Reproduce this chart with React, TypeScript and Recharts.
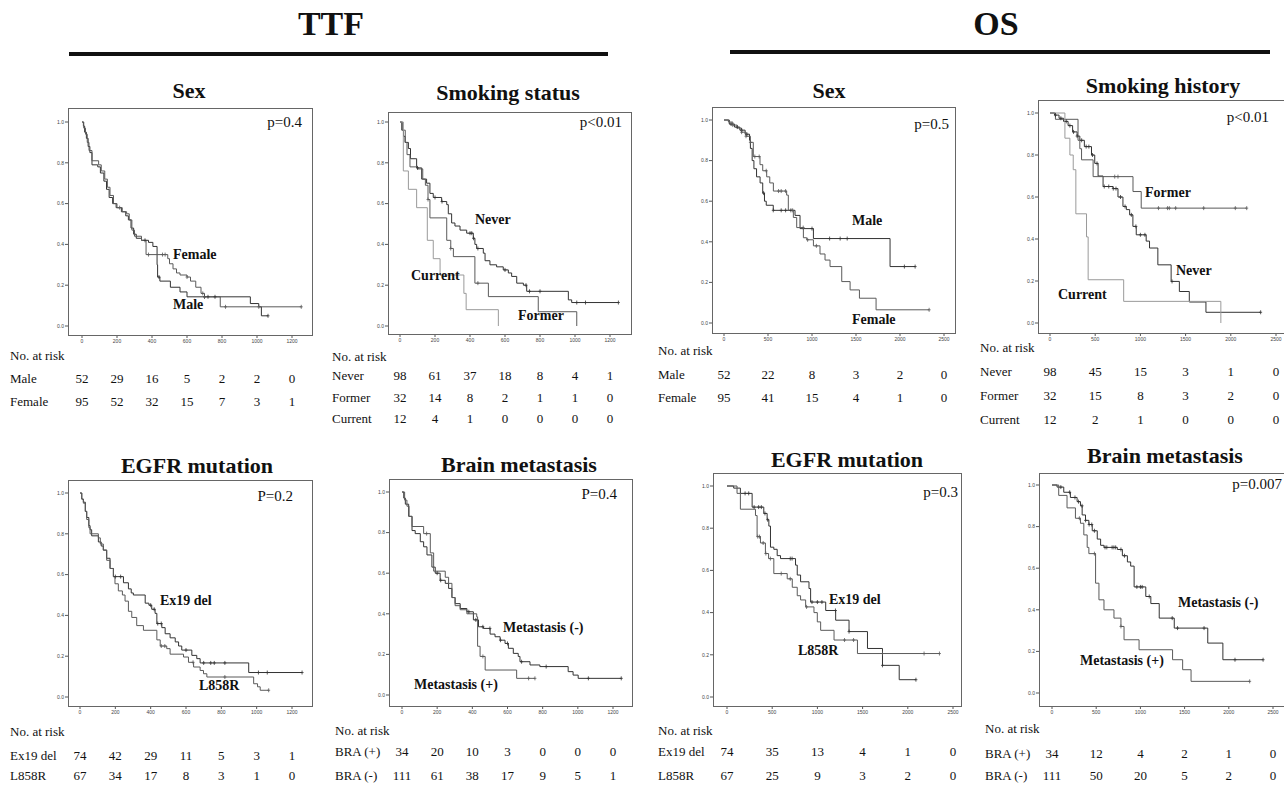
import React from 'react';
import { ComposedChart, Line, XAxis, YAxis } from 'recharts';

type Pt = [number, number];

const FONT = '"Liberation Serif", "DejaVu Serif", "Times New Roman", serif';

// axis ticks
const ttfTicks = [0, 200, 400, 600, 800, 1000, 1200];
const osTicks = [0, 500, 1000, 1500, 2000, 2500];
const survTicks = [0, 0.2, 0.4, 0.6, 0.8, 1.0];

// ---------- TTF: Sex ----------
const ttfSexMale: Pt[] = [[0, 1], [8, 0.98], [15, 0.95], [25, 0.92], [35, 0.88], [45, 0.85], [57, 0.79], [90, 0.78], [105, 0.75], [125, 0.71], [140, 0.67], [155, 0.63], [175, 0.6], [195, 0.58], [225, 0.56], [250, 0.54], [265, 0.52], [280, 0.48], [295, 0.45], [310, 0.43], [340, 0.42], [380, 0.41], [405, 0.39], [429, 0.3], [432, 0.24], [445, 0.22], [505, 0.19], [560, 0.167], [600, 0.143], [962, 0.11], [1010, 0.094], [1025, 0.05], [1063, 0.05]];
const ttfSexFemale: Pt[] = [[0, 1], [10, 0.97], [20, 0.94], [30, 0.9], [40, 0.86], [57, 0.81], [95, 0.79], [110, 0.76], [130, 0.72], [145, 0.68], [160, 0.64], [180, 0.6], [200, 0.58], [230, 0.56], [255, 0.55], [270, 0.52], [285, 0.47], [300, 0.44], [340, 0.42], [366, 0.35], [476, 0.35], [490, 0.33], [500, 0.305], [520, 0.28], [540, 0.26], [560, 0.25], [600, 0.24], [620, 0.22], [650, 0.19], [680, 0.16], [700, 0.143], [790, 0.094], [1253, 0.094]];
const ttfSexMaleCens = [360, 440, 700, 720, 760, 1063];
const ttfSexFemaleCens = [215, 380, 460, 475, 600, 690, 700, 820, 1010, 1253];
const ttfSexMaleRisk = [52, 29, 16, 5, 2, 2, 0];
const ttfSexFemaleRisk = [95, 52, 32, 15, 7, 3, 1];

// ---------- TTF: Smoking status ----------
const ttfSmkNever: Pt[] = [[0, 1], [10, 0.96], [20, 0.93], [29, 0.9], [48, 0.87], [60, 0.82], [86, 0.82], [95, 0.775], [124, 0.72], [152, 0.7], [171, 0.65], [190, 0.63], [238, 0.61], [267, 0.595], [276, 0.55], [295, 0.505], [314, 0.49], [343, 0.47], [381, 0.455], [419, 0.43], [428, 0.4], [438, 0.38], [476, 0.357], [486, 0.32], [514, 0.3], [552, 0.29], [590, 0.275], [619, 0.26], [638, 0.243], [667, 0.21], [705, 0.2], [724, 0.17], [962, 0.128], [981, 0.115], [1248, 0.115]];
const ttfSmkFormer: Pt[] = [[0, 1], [15, 0.96], [30, 0.9], [40, 0.84], [57, 0.78], [100, 0.77], [130, 0.72], [145, 0.69], [160, 0.62], [171, 0.53], [267, 0.42], [290, 0.38], [305, 0.34], [428, 0.21], [505, 0.144], [790, 0.07], [1010, 0]];
const ttfSmkCurrent: Pt[] = [[0, 1], [19, 0.76], [48, 0.67], [95, 0.58], [156, 0.42], [190, 0.33], [229, 0.25], [365, 0.16], [378, 0.08], [562, 0]];
const ttfSmkNeverCens = [100, 200, 240, 400, 410, 420, 445, 600, 720, 740, 800, 1010, 1060, 1248];
const ttfSmkFormerCens = [160, 290, 445];
const ttfSmkNeverRisk = [98, 61, 37, 18, 8, 4, 1];
const ttfSmkFormerRisk = [32, 14, 8, 2, 1, 1, 0];
const ttfSmkCurrentRisk = [12, 4, 1, 0, 0, 0, 0];

// ---------- OS: Sex ----------
const osSexMale: Pt[] = [[0, 1], [60, 0.98], [120, 0.965], [180, 0.95], [240, 0.93], [290, 0.9], [300, 0.86], [320, 0.8], [340, 0.76], [370, 0.72], [410, 0.69], [440, 0.64], [460, 0.6], [480, 0.58], [560, 0.555], [807, 0.53], [864, 0.465], [1016, 0.416], [1887, 0.278], [2172, 0.278]];
const osSexFemale: Pt[] = [[0, 1], [50, 0.99], [100, 0.975], [150, 0.96], [200, 0.94], [250, 0.92], [300, 0.89], [333, 0.82], [409, 0.78], [440, 0.75], [485, 0.72], [520, 0.69], [561, 0.65], [712, 0.63], [731, 0.555], [788, 0.52], [826, 0.47], [902, 0.42], [940, 0.41], [1016, 0.38], [1091, 0.34], [1148, 0.31], [1205, 0.278], [1338, 0.204], [1433, 0.163], [1539, 0.122], [1728, 0.065], [2331, 0.065]];
const osSexMaleCens = [80, 150, 200, 260, 450, 560, 650, 700, 760, 1000, 1200, 1320, 1400, 2050, 2172];
const osSexFemaleCens = [100, 200, 250, 300, 350, 400, 480, 620, 650, 700, 780, 900, 950, 1050, 2331];
const osSexMaleRisk = [52, 22, 8, 3, 2, 0];
const osSexFemaleRisk = [95, 41, 15, 4, 1, 0];

// ---------- OS: Smoking history ----------
const osSmkNever: Pt[] = [[0, 1], [50, 0.99], [100, 0.975], [150, 0.96], [200, 0.94], [250, 0.91], [300, 0.89], [330, 0.87], [380, 0.84], [459, 0.8], [495, 0.76], [532, 0.7], [587, 0.65], [697, 0.64], [752, 0.6], [807, 0.555], [844, 0.54], [881, 0.515], [917, 0.46], [954, 0.42], [1064, 0.39], [1101, 0.357], [1193, 0.277], [1340, 0.198], [1431, 0.15], [1541, 0.1], [1725, 0.051], [2330, 0.051]];
const osSmkFormer: Pt[] = [[0, 1], [60, 0.97], [310, 0.87], [330, 0.83], [349, 0.777], [477, 0.697], [918, 0.626], [1009, 0.547], [2176, 0.547]];
const osSmkCurrent: Pt[] = [[0, 1], [165, 0.88], [220, 0.8], [257, 0.73], [286, 0.52], [404, 0.41], [422, 0.206], [815, 0.103], [1890, 0]];
const osSmkNeverCens = [60, 120, 180, 220, 260, 300, 350, 400, 430, 470, 520, 600, 650, 700, 730, 780, 830, 900, 950, 1000, 1050, 1350, 2330];
const osSmkFormerCens = [716, 752, 1200, 1300, 1320, 1390, 1700, 2050, 2176];
const osSmkNeverRisk = [98, 45, 15, 3, 1, 0];
const osSmkFormerRisk = [32, 15, 8, 3, 2, 0];
const osSmkCurrentRisk = [12, 2, 1, 0, 0, 0];

// ---------- TTF: EGFR mutation ----------
const ttfEgfrEx19: Pt[] = [[0, 1], [10, 0.97], [19, 0.955], [30, 0.91], [38, 0.88], [50, 0.84], [57, 0.82], [66, 0.79], [104, 0.76], [120, 0.74], [132, 0.72], [151, 0.68], [170, 0.63], [189, 0.59], [246, 0.56], [274, 0.53], [290, 0.51], [302, 0.5], [369, 0.46], [390, 0.45], [406, 0.43], [425, 0.41], [435, 0.36], [463, 0.34], [482, 0.31], [510, 0.29], [539, 0.27], [558, 0.25], [576, 0.23], [633, 0.204], [661, 0.188], [680, 0.167], [955, 0.12], [1257, 0.12]];
const ttfEgfrL858: Pt[] = [[0, 1], [10, 0.97], [19, 0.95], [30, 0.91], [38, 0.87], [50, 0.83], [57, 0.8], [104, 0.78], [115, 0.75], [132, 0.72], [151, 0.67], [170, 0.63], [189, 0.59], [198, 0.555], [217, 0.52], [240, 0.5], [255, 0.47], [274, 0.42], [293, 0.39], [321, 0.35], [359, 0.327], [435, 0.28], [454, 0.25], [491, 0.237], [510, 0.21], [586, 0.196], [614, 0.17], [643, 0.147], [680, 0.13], [699, 0.114], [718, 0.098], [983, 0.065], [1005, 0.05], [1020, 0.033], [1068, 0.033]];
const ttfEgfrEx19Cens = [200, 230, 400, 420, 440, 460, 600, 700, 740, 760, 820, 1010, 1060, 1257];
const ttfEgfrL858Cens = [460, 480, 640, 820, 1068];
const ttfEgfrEx19Risk = [74, 42, 29, 11, 5, 3, 1];
const ttfEgfrL858Risk = [67, 34, 17, 8, 3, 1, 0];

// ---------- TTF: Brain metastasis ----------
const ttfBraPos: Pt[] = [[0, 1], [15, 0.96], [28, 0.93], [40, 0.88], [57, 0.83], [123, 0.795], [161, 0.7], [180, 0.61], [246, 0.58], [265, 0.55], [284, 0.48], [302, 0.44], [331, 0.42], [369, 0.4], [425, 0.385], [430, 0.24], [444, 0.19], [473, 0.123], [652, 0.082], [756, 0.082]];
const ttfBraNeg: Pt[] = [[0, 1], [10, 0.97], [19, 0.94], [38, 0.88], [57, 0.81], [75, 0.795], [104, 0.755], [123, 0.73], [142, 0.69], [170, 0.63], [189, 0.6], [217, 0.565], [246, 0.55], [265, 0.525], [284, 0.48], [302, 0.45], [331, 0.426], [369, 0.41], [406, 0.37], [435, 0.336], [463, 0.328], [501, 0.3], [529, 0.287], [558, 0.27], [586, 0.254], [605, 0.23], [633, 0.205], [661, 0.19], [671, 0.164], [728, 0.148], [784, 0.14], [945, 0.115], [973, 0.098], [1002, 0.082], [1247, 0.082]];
const ttfBraPosCens = [140, 460, 720, 756];
const ttfBraNegCens = [200, 220, 380, 420, 460, 500, 560, 600, 680, 820, 1060, 1247];
const ttfBraPosRisk = [34, 20, 10, 3, 0, 0, 0];
const ttfBraNegRisk = [111, 61, 38, 17, 9, 5, 1];

// ---------- OS: EGFR mutation ----------
const osEgfrEx19: Pt[] = [[0, 1], [74, 0.99], [148, 0.965], [278, 0.9], [407, 0.87], [444, 0.84], [463, 0.81], [481, 0.71], [518, 0.7], [555, 0.67], [592, 0.656], [758, 0.625], [777, 0.578], [814, 0.546], [907, 0.514], [925, 0.45], [1092, 0.41], [1202, 0.364], [1350, 0.31], [1554, 0.23], [1720, 0.15], [1905, 0.082], [2090, 0.082]];
const osEgfrL858: Pt[] = [[0, 1], [111, 0.965], [148, 0.89], [315, 0.86], [333, 0.76], [370, 0.73], [425, 0.68], [460, 0.656], [518, 0.585], [666, 0.56], [722, 0.52], [777, 0.48], [814, 0.46], [870, 0.427], [962, 0.4], [999, 0.356], [1036, 0.316], [1184, 0.27], [1443, 0.206], [2350, 0.206]];
const osEgfrEx19Cens = [200, 240, 300, 350, 380, 420, 450, 700, 720, 940, 1000, 1050, 1200, 1350, 1720, 2090];
const osEgfrL858Cens = [340, 360, 400, 430, 480, 600, 700, 880, 1300, 1400, 1720, 2180, 2350];
const osEgfrEx19Risk = [74, 35, 13, 4, 1, 0];
const osEgfrL858Risk = [67, 25, 9, 3, 2, 0];

// ---------- OS: Brain metastasis ----------
const osBraNeg: Pt[] = [[0, 1], [57, 0.99], [133, 0.965], [208, 0.94], [284, 0.92], [322, 0.9], [341, 0.856], [379, 0.83], [417, 0.81], [455, 0.78], [512, 0.74], [550, 0.71], [588, 0.7], [739, 0.69], [796, 0.66], [853, 0.63], [890, 0.61], [929, 0.51], [1061, 0.464], [1118, 0.43], [1213, 0.36], [1383, 0.312], [1762, 0.24], [1933, 0.16], [2388, 0.16]];
const osBraPos: Pt[] = [[0, 1], [76, 0.95], [170, 0.89], [265, 0.84], [322, 0.816], [360, 0.76], [398, 0.7], [417, 0.67], [493, 0.528], [531, 0.448], [588, 0.4], [701, 0.36], [780, 0.32], [815, 0.256], [985, 0.208], [1364, 0.16], [1478, 0.112], [1573, 0.056], [2236, 0.056]];
const osBraNegCens = [100, 200, 260, 300, 340, 380, 420, 450, 480, 600, 620, 680, 700, 720, 780, 820, 960, 1000, 1020, 1100, 1360, 1420, 1720, 2070, 2388];
const osBraPosCens = [310, 480, 780, 2236];
const osBraPosRisk = [34, 12, 4, 2, 1, 0];
const osBraNegRisk = [111, 50, 20, 5, 2, 0];

// ---------- layout ----------
const Y_W = 20;
const X_H = 14;
const DARK = '#333';
const MID = '#5a5a5a';
const LIGHT = '#9a9a9a';

interface Series { curve: Pt[]; cens: number[]; color: string }
interface Label { text: string; x: number; y: number }
interface RiskRow { label: string; y: number; values: number[] }
interface PanelCfg {
  title: string; titleX: number; titleY: number;
  L: number; T: number; R: number; B: number;
  x0px: number; x1px: number; xTickMax: number; y1px: number; y0px: number;
  ticks: number[];
  pText: string; pRight: number; pY: number;
  labels: Label[];
  series: Series[];
  riskX: number; riskHeadY: number; rows: RiskRow[];
}

const panels: PanelCfg[] = [
  {
    title: 'Sex', titleX: 189, titleY: 93, L: 68, T: 108, R: 313, B: 336,
    x0px: 82, x1px: 292, xTickMax: 1200, y1px: 122, y0px: 326, ticks: ttfTicks,
    pText: 'p=0.4', pRight: 302, pY: 123,
    labels: [{ text: 'Female', x: 173, y: 257 }, { text: 'Male', x: 173, y: 307 }],
    series: [
      { curve: ttfSexMale, cens: ttfSexMaleCens, color: DARK },
      { curve: ttfSexFemale, cens: ttfSexFemaleCens, color: MID },
    ],
    riskX: 10, riskHeadY: 357,
    rows: [{ label: 'Male', y: 380, values: ttfSexMaleRisk }, { label: 'Female', y: 403, values: ttfSexFemaleRisk }],
  },
  {
    title: 'Smoking status', titleX: 508, titleY: 95, L: 388, T: 112, R: 632, B: 335,
    x0px: 400, x1px: 610, xTickMax: 1200, y1px: 122, y0px: 326, ticks: ttfTicks,
    pText: 'p<0.01', pRight: 622, pY: 123,
    labels: [{ text: 'Never', x: 475, y: 222 }, { text: 'Current', x: 411, y: 278 }, { text: 'Former', x: 518, y: 318 }],
    series: [
      { curve: ttfSmkNever, cens: ttfSmkNeverCens, color: DARK },
      { curve: ttfSmkFormer, cens: ttfSmkFormerCens, color: MID },
      { curve: ttfSmkCurrent, cens: [], color: LIGHT },
    ],
    riskX: 332, riskHeadY: 358,
    rows: [
      { label: 'Never', y: 377, values: ttfSmkNeverRisk },
      { label: 'Former', y: 399, values: ttfSmkFormerRisk },
      { label: 'Current', y: 420, values: ttfSmkCurrentRisk },
    ],
  },
  {
    title: 'Sex', titleX: 829, titleY: 93, L: 712, T: 107, R: 956, B: 334,
    x0px: 724, x1px: 944, xTickMax: 2500, y1px: 120, y0px: 323, ticks: osTicks,
    pText: 'p=0.5', pRight: 949, pY: 125,
    labels: [{ text: 'Male', x: 852, y: 223 }, { text: 'Female', x: 852, y: 322 }],
    series: [
      { curve: osSexMale, cens: osSexMaleCens, color: DARK },
      { curve: osSexFemale, cens: osSexFemaleCens, color: MID },
    ],
    riskX: 658, riskHeadY: 352,
    rows: [{ label: 'Male', y: 376, values: osSexMaleRisk }, { label: 'Female', y: 399, values: osSexFemaleRisk }],
  },
  {
    title: 'Smoking history', titleX: 1163, titleY: 88, L: 1038, T: 100, R: 1292, B: 334,
    x0px: 1050, x1px: 1276, xTickMax: 2500, y1px: 113, y0px: 323, ticks: osTicks,
    pText: 'p<0.01', pRight: 1269, pY: 118,
    labels: [{ text: 'Former', x: 1145, y: 195 }, { text: 'Never', x: 1176, y: 273 }, { text: 'Current', x: 1058, y: 297 }],
    series: [
      { curve: osSmkNever, cens: osSmkNeverCens, color: DARK },
      { curve: osSmkFormer, cens: osSmkFormerCens, color: MID },
      { curve: osSmkCurrent, cens: [], color: LIGHT },
    ],
    riskX: 980, riskHeadY: 349,
    rows: [
      { label: 'Never', y: 373, values: osSmkNeverRisk },
      { label: 'Former', y: 397, values: osSmkFormerRisk },
      { label: 'Current', y: 421, values: osSmkCurrentRisk },
    ],
  },
  {
    title: 'EGFR mutation', titleX: 197, titleY: 468, L: 68, T: 480, R: 313, B: 707,
    x0px: 80, x1px: 292, xTickMax: 1200, y1px: 493, y0px: 697, ticks: ttfTicks,
    pText: 'P=0.2', pRight: 293, pY: 497,
    labels: [{ text: 'Ex19 del', x: 160, y: 603 }, { text: 'L858R', x: 199, y: 688 }],
    series: [
      { curve: ttfEgfrEx19, cens: ttfEgfrEx19Cens, color: DARK },
      { curve: ttfEgfrL858, cens: ttfEgfrL858Cens, color: MID },
    ],
    riskX: 10, riskHeadY: 733,
    rows: [{ label: 'Ex19 del', y: 757, values: ttfEgfrEx19Risk }, { label: 'L858R', y: 777, values: ttfEgfrL858Risk }],
  },
  {
    title: 'Brain metastasis', titleX: 519, titleY: 467, L: 389, T: 479, R: 633, B: 707,
    x0px: 402, x1px: 613, xTickMax: 1200, y1px: 492, y0px: 695, ticks: ttfTicks,
    pText: 'P=0.4', pRight: 617, pY: 495,
    labels: [{ text: 'Metastasis (-)', x: 503, y: 630 }, { text: 'Metastasis (+)', x: 414, y: 687 }],
    series: [
      { curve: ttfBraNeg, cens: ttfBraNegCens, color: DARK },
      { curve: ttfBraPos, cens: ttfBraPosCens, color: MID },
    ],
    riskX: 335, riskHeadY: 732,
    rows: [{ label: 'BRA (+)', y: 753, values: ttfBraPosRisk }, { label: 'BRA (-)', y: 777, values: ttfBraNegRisk }],
  },
  {
    title: 'EGFR mutation', titleX: 847, titleY: 462, L: 713, T: 473, R: 962, B: 707,
    x0px: 727, x1px: 953, xTickMax: 2500, y1px: 486, y0px: 697, ticks: osTicks,
    pText: 'p=0.3', pRight: 958, pY: 493,
    labels: [{ text: 'Ex19 del', x: 829, y: 602 }, { text: 'L858R', x: 798, y: 653 }],
    series: [
      { curve: osEgfrEx19, cens: osEgfrEx19Cens, color: DARK },
      { curve: osEgfrL858, cens: osEgfrL858Cens, color: MID },
    ],
    riskX: 658, riskHeadY: 732,
    rows: [{ label: 'Ex19 del', y: 753, values: osEgfrEx19Risk }, { label: 'L858R', y: 777, values: osEgfrL858Risk }],
  },
  {
    title: 'Brain metastasis', titleX: 1165, titleY: 458, L: 1039, T: 473, R: 1292, B: 707,
    x0px: 1052, x1px: 1273, xTickMax: 2500, y1px: 485, y0px: 693, ticks: osTicks,
    pText: 'p=0.007', pRight: 1282, pY: 485,
    labels: [{ text: 'Metastasis (-)', x: 1178, y: 605 }, { text: 'Metastasis (+)', x: 1080, y: 663 }],
    series: [
      { curve: osBraNeg, cens: osBraNegCens, color: DARK },
      { curve: osBraPos, cens: osBraPosCens, color: MID },
    ],
    riskX: 985, riskHeadY: 730,
    rows: [{ label: 'BRA (+)', y: 755, values: osBraPosRisk }, { label: 'BRA (-)', y: 777, values: osBraNegRisk }],
  },
];

function stepValue(curve: Pt[], t: number) {
  let v = curve[0][1];
  for (const [ct, cv] of curve) {
    if (ct <= t) v = cv;
    else break;
  }
  return v;
}

const Txt = ({ x, y, size, bold, align = 'left', children }: any) => {
  const shift = align === 'center' ? '-50%' : align === 'right' ? '-100%' : '0';
  return (
    <div
      style={{
        position: 'absolute', left: x, top: y - size * 0.68, fontSize: size,
        lineHeight: `${size * 1.2}px`, fontWeight: bold ? 700 : 400,
        whiteSpace: 'nowrap', transform: `translateX(${shift})`,
      }}
    >
      {children}
    </div>
  );
};

const Panel = ({ p }: { p: PanelCfg }) => {
  const ux = (p.x1px - p.x0px) / p.xTickMax;
  const xMin = (p.L - p.x0px) / ux;
  const xMax = (p.R - p.x0px) / ux;
  const uy = p.y0px - p.y1px;
  const yMax = (p.y0px - p.T) / uy;
  const yMin = (p.y0px - p.B) / uy;
  const w = p.R - p.L;
  const h = p.B - p.T;
  const sx = (t: number) => p.L + ((t - xMin) / (xMax - xMin)) * w;

  return (
    <>
      <Txt x={p.titleX} y={p.titleY} size={22} bold align="center">{p.title}</Txt>
      <div style={{ position: 'absolute', left: p.L - Y_W, top: p.T }}>
        <ComposedChart width={w + Y_W} height={h + X_H} margin={{ top: 0, right: 0, bottom: 0, left: 0 }}>
          <XAxis
            type="number" dataKey="t" domain={[xMin, xMax]} allowDataOverflow
            ticks={p.ticks} interval={0} height={X_H} axisLine={false}
            tickSize={2} tickMargin={1} tickLine={{ stroke: '#555' }}
            tick={{ fontSize: 5, fill: '#444', fontFamily: 'Arial' }}
          />
          <YAxis
            type="number" dataKey="v" domain={[yMin, yMax]} allowDataOverflow
            ticks={survTicks} interval={0} width={Y_W} axisLine={false}
            tickSize={3} tickMargin={1} tickLine={{ stroke: '#555' }}
            tickFormatter={(v: number) => v.toFixed(1)}
            tick={{ fontSize: 5, fill: '#444', fontFamily: 'Arial' }}
          />
          {p.series.map((s, i) => (
            <Line
              key={`line-${i}`}
              data={s.curve.map(([t, v]) => ({ t, v }))}
              dataKey="v" type="stepAfter" stroke={s.color} strokeWidth={1}
              dot={false} activeDot={false} isAnimationActive={false}
            />
          ))}
          {p.series.map((s, i) => (
            <Line
              key={`cens-${i}`}
              data={s.cens.map((t) => ({ t, v: stepValue(s.curve, t) }))}
              dataKey="v" stroke="none" activeDot={false} isAnimationActive={false}
              dot={(d: any) => (
                <path
                  key={`c-${i}-${d.index}`}
                  d={`M${d.cx - 1.5},${d.cy}H${d.cx + 1.5}M${d.cx},${d.cy - 2}V${d.cy + 2}`}
                  stroke={s.color} strokeWidth={0.8} fill="none"
                />
              )}
            />
          ))}
        </ComposedChart>
      </div>
      <div
        style={{
          position: 'absolute', left: p.L, top: p.T, width: w, height: h,
          border: '1px solid #666', boxSizing: 'border-box', pointerEvents: 'none',
        }}
      />
      <Txt x={p.pRight} y={p.pY} size={15} align="right">{p.pText}</Txt>
      {p.labels.map((l, i) => (
        <Txt key={`lab-${i}`} x={l.x} y={l.y} size={14} bold>{l.text}</Txt>
      ))}
      <Txt x={p.riskX} y={p.riskHeadY} size={13}>No. at risk</Txt>
      {p.rows.map((r, i) => (
        <React.Fragment key={`row-${i}`}>
          <Txt x={p.riskX} y={r.y} size={13}>{r.label}</Txt>
          {r.values.map((n, j) => (
            <Txt key={`n-${i}-${j}`} x={sx(p.ticks[j])} y={r.y} size={13} align="center">{n}</Txt>
          ))}
        </React.Fragment>
      ))}
    </>
  );
};

export default function App() {
  return (
    <div
      style={{
        position: 'absolute', left: 0, top: 0, width: 1284, height: 786,
        overflow: 'hidden', background: '#fff', fontFamily: FONT, color: '#111',
      }}
    >
      <Txt x={331} y={27} size={34} bold align="center">TTF</Txt>
      <div style={{ position: 'absolute', left: 69, top: 52, width: 539, height: 4, background: '#111' }} />
      <Txt x={996} y={27} size={34} bold align="center">OS</Txt>
      <div style={{ position: 'absolute', left: 730, top: 50, width: 540, height: 4, background: '#111' }} />
      {panels.map((p, i) => (
        <Panel key={`panel-${i}`} p={p} />
      ))}
    </div>
  );
}
